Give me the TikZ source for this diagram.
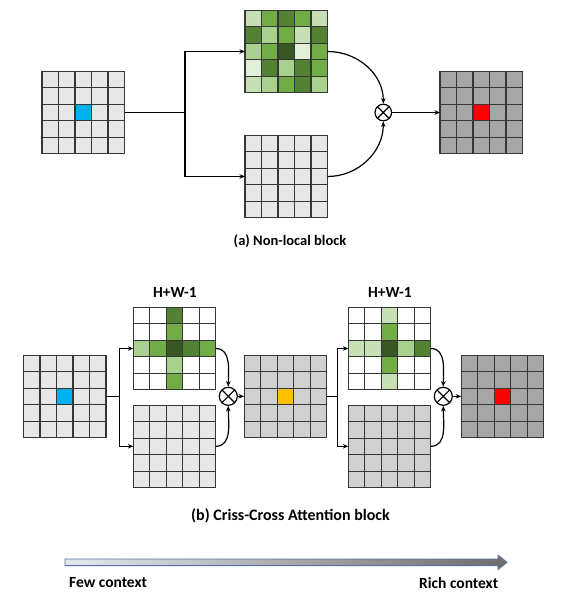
\documentclass[tikz,border=0pt]{standalone}
\usepackage{fontspec}
\setmainfont{Carlito}
\usetikzlibrary{arrows.meta,calc}
\definecolor{g1}{HTML}{E2F0D9}
\definecolor{g2}{HTML}{C5E0B4}
\definecolor{g3}{HTML}{A9D18E}
\definecolor{g4}{HTML}{70AD47}
\definecolor{g5}{HTML}{548235}
\definecolor{g6}{HTML}{385723}
\definecolor{gridline}{HTML}{363636}
\definecolor{lightgray}{HTML}{E7E7E7}
\definecolor{midgray}{HTML}{D0D0D0}
\definecolor{darkgray}{HTML}{A6A6A6}
\definecolor{cellblue}{HTML}{00B0F0}
\definecolor{cellred}{HTML}{FF0000}
\definecolor{cellorange}{HTML}{FFC000}
\definecolor{arrowL}{HTML}{E4E8EF}
\definecolor{arrowR}{HTML}{6C6C6C}
\definecolor{arrowB}{HTML}{5B7197}
\tikzset{
  gridbox/.style={draw=gridline, line width=1.1pt, minimum size=82.5pt, inner sep=0pt, outer sep=0pt},
  conn/.style={line width=1.2pt, black},
  arr/.style={conn, -{Stealth[length=5.5pt,width=4.5pt]}},
  mult/.style={circle, draw, line width=1.2pt, minimum size=17pt, inner sep=0pt,
    path picture={\draw[line width=1.2pt]
      (path picture bounding box.north west)--(path picture bounding box.south east)
      (path picture bounding box.north east)--(path picture bounding box.south west);}},
  lbl/.style={font=\bfseries\fontsize{15.5}{18}\selectfont, inner sep=0pt}
}
\newcommand\cell[4]{\fill[#4] ($(#1.north west)+({#2*16.5},{#3*16.5})$) rectangle ++(16.5,16.5);}
\newcommand\gridrow[3]{\foreach \c [count=\i from 0] in {#3}{\cell{#1}{\i}{#2}{\c}}}
\newcommand\glines[1]{%
  \foreach \k in {1,2,3,4}{%
    \draw[gridline, line width=1.1pt] ($(#1.north west)+({\k*16.5},0)$) -- ++(0,82.5);
    \draw[gridline, line width=1.1pt] ($(#1.north west)+(0,{\k*16.5})$) -- ++(82.5,0);}
  \draw[gridline, line width=1.1pt] (#1.north west) rectangle (#1.south east);}
\begin{document}
\begin{tikzpicture}[x=1pt,y=-1pt]
\useasboundingbox (0,0) rectangle (567,601);
\fill[white] (0,0) rectangle (567,601);

% ---------- (a) Non-local block ----------
\node[gridbox, fill=lightgray] (A) at (83.25,112.5) {};
\cell{A}{2}{2}{cellblue}
\glines{A}
\node[gridbox, fill=white] (G) at (286.25,51.5) {};
\gridrow{G}{0}{g2,g4,g5,g4,g2}
\gridrow{G}{1}{g5,g3,g4,g2,g5}
\gridrow{G}{2}{g3,g4,g6,g1,g4}
\gridrow{G}{3}{g1,g5,g3,g5,g4}
\gridrow{G}{4}{g2,g3,g4,g5,g3}
\glines{G}
\node[gridbox, fill=lightgray] (K) at (286.25,176.5) {};
\glines{K}
\node[gridbox, fill=darkgray] (R) at (481.25,112.5) {};
\cell{R}{2}{2}{cellred}
\glines{R}
\node[mult, minimum size=16.6pt] (m0) at (383.3,112.5) {};
\coordinate (s0) at (185,112.5);
\draw[conn] (A.east) -- (s0);
\draw[arr] (s0) |- (G.west);
\draw[arr] (s0) |- (K.west);
\draw[arr] (G.east) to[out=0,in=90] (m0.north);
\draw[arr] (K.east) to[out=0,in=-90] (m0.south);
\draw[arr] (m0.east) -- (R.west);
\node[lbl, font=\bfseries\fontsize{14.5}{17}\selectfont] (la) at (290,241) {(a) Non-local block};

% ---------- (b) Criss-Cross Attention block ----------
\node[gridbox, fill=lightgray] (B) at (64.7,396.3) {};
\cell{B}{2}{2}{cellblue}
\glines{B}
\node[gridbox, fill=white] (G1) at (174.6,348.5) {};
\gridrow{G1}{2}{g3,g4,g6,g5,g4}
\cell{G1}{2}{0}{g5}
\cell{G1}{2}{1}{g4}
\cell{G1}{2}{3}{g3}
\cell{G1}{2}{4}{g4}
\glines{G1}
\node[gridbox, fill=lightgray] (K1) at (174.6,446.3) {};
\glines{K1}
\node[gridbox, fill=midgray] (M) at (285.3,396.3) {};
\cell{M}{2}{2}{cellorange}
\glines{M}
\node[gridbox, fill=white] (G2) at (389.6,348.5) {};
\gridrow{G2}{2}{g2,g2,g6,g3,g5}
\cell{G2}{2}{0}{g2}
\cell{G2}{2}{1}{g4}
\cell{G2}{2}{3}{g4}
\cell{G2}{2}{4}{g2}
\glines{G2}
\node[gridbox, fill=midgray] (K2) at (389.6,446.3) {};
\glines{K2}
\node[gridbox, fill=darkgray] (R2) at (502.5,396.3) {};
\cell{R2}{2}{2}{cellred}
\glines{R2}
\node[mult, minimum size=18pt] (m1) at (228.3,396.3) {};
\node[mult, minimum size=18pt] (m2) at (443.3,396.3) {};
\coordinate (s1) at (119.3,396.3);
\coordinate (s2) at (337.3,396.3);
\draw[conn] (B.east) -- (s1);
\draw[arr] (s1) |- (G1.west);
\draw[arr] (s1) |- (K1.west);
\draw[arr] (G1.east) to[out=0,in=90] (m1.north);
\draw[arr] (K1.east) to[out=0,in=-90] (m1.south);
\draw[arr] (m1.east) -- (M.west);
\draw[conn] (M.east) -- (s2);
\draw[arr] (s2) |- (G2.west);
\draw[arr] (s2) |- (K2.west);
\draw[arr] (G2.east) to[out=0,in=90] (m2.north);
\draw[arr] (K2.east) to[out=0,in=-90] (m2.south);
\draw[arr] (m2.east) -- (R2.west);
\node[lbl] (hw1) at (175,292) {H+W-1};
\node[lbl] (hw2) at (390,292) {H+W-1};
\node[lbl, font=\bfseries\fontsize{16}{19}\selectfont] (lb) at (290.5,516) {(b) Criss-Cross Attention block};

% ---------- context arrow ----------
\coordinate (cL) at (65,562.3);
\coordinate (cR) at (507,562.3);
\shadedraw[left color=arrowL, right color=arrowR, draw=arrowB, line width=0.8pt]
  ($(cL)+(0,-3.3)$) -- ($(cR)+(-9,-3.3)$) -- ($(cR)+(-9,-7.3)$) -- (cR)
  -- ($(cR)+(-9,7.3)$) -- ($(cR)+(-9,3.3)$) -- ($(cL)+(0,3.3)$) -- cycle;
\node[lbl, anchor=west] (few) at (69,583) {Few context};
\node[lbl, anchor=west] (rich) at (419,583) {Rich context};
\end{tikzpicture}
\end{document}
